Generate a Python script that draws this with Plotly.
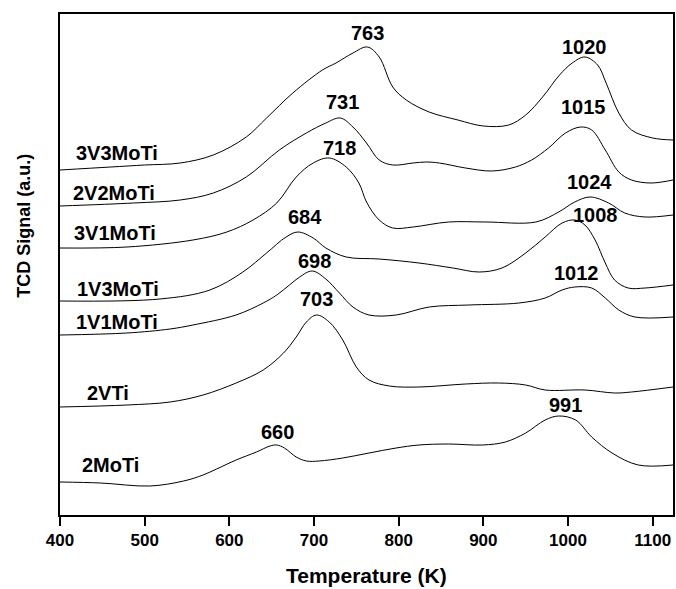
import plotly.graph_objects as go

# Temperature (K) / TCD signal (a.u., stacked offsets as drawn)
t_3v3 = [400, 460, 500, 542, 581, 620, 644, 675, 710, 726, 746, 763, 777, 793, 809, 836, 870, 900, 930, 950, 970, 990, 1005, 1020, 1035, 1045, 1060, 1075, 1100, 1124]
s_3v3 = [345, 348, 350, 352, 360, 378, 397, 422, 445, 452, 462, 468, 458, 428, 415, 403, 395, 389, 390, 400, 418, 440, 452, 458, 450, 432, 402, 385, 377, 375]

t_2v2 = [400, 487, 542, 581, 620, 659, 691, 714, 731, 746, 762, 777, 793, 817, 832, 848, 879, 910, 938, 957, 977, 997, 1015, 1028, 1044, 1060, 1075, 1098, 1124]
s_2v2 = [309, 312, 315, 322, 338, 365, 382, 392, 397, 388, 372, 355, 350, 352, 353, 352, 347, 344, 348, 355, 367, 382, 388, 385, 365, 343, 335, 332, 335]

t_3v1 = [400, 479, 557, 597, 628, 656, 679, 699, 718, 738, 753, 762, 777, 793, 817, 859, 903, 962, 989, 1008, 1026, 1048, 1067, 1091, 1124]
s_3v1 = [267, 268, 275, 283, 295, 312, 338, 352, 357, 348, 332, 313, 295, 287, 288, 293, 293, 293, 303, 313, 318, 312, 302, 298, 300]

t_1v3 = [400, 518, 577, 616, 644, 667, 681, 699, 714, 738, 777, 824, 864, 895, 922, 950, 973, 993, 1008, 1020, 1032, 1044, 1055, 1071, 1091, 1124]
s_1v3 = [214, 216, 225, 243, 262, 278, 283, 277, 267, 258, 256, 252, 247, 243, 247, 262, 278, 292, 295, 290, 275, 252, 235, 227, 227, 230]

t_1v1 = [400, 479, 530, 557, 608, 640, 656, 671, 683, 698, 714, 730, 746, 765, 797, 836, 883, 942, 973, 993, 1008, 1028, 1044, 1060, 1079, 1124]
s_1v1 = [180, 182, 186, 190, 200, 212, 220, 230, 238, 244, 236, 222, 208, 200, 200, 208, 210, 212, 217, 225, 228, 227, 217, 205, 198, 198]

t_2v = [400, 479, 530, 569, 608, 640, 664, 679, 691, 703, 718, 734, 750, 765, 789, 824, 879, 918, 950, 973, 1020, 1055, 1075, 1124]
s_2v = [108, 110, 113, 120, 132, 145, 162, 178, 193, 200, 193, 175, 148, 135, 129, 128, 131, 132, 130, 125, 125, 122, 123, 128]

t_2mo = [400, 448, 506, 546, 569, 585, 608, 632, 648, 656, 665, 679, 691, 706, 734, 765, 797, 824, 859, 899, 926, 950, 973, 989, 1009, 1028, 1052, 1083, 1124]
s_2mo = [33, 32, 29, 34, 40, 46, 55, 63, 69, 70, 67, 58, 54, 54, 57, 62, 67, 70, 71, 70, 73, 82, 95, 99, 95, 78, 62, 50, 50]

series_names = ["3V3MoTi", "2V2MoTi", "3V1MoTi", "1V3MoTi", "1V1MoTi", "2VTi", "2MoTi"]
series_t = [t_3v3, t_2v2, t_3v1, t_1v3, t_1v1, t_2v, t_2mo]
series_s = [s_3v3, s_2v2, s_3v1, s_1v3, s_1v1, s_2v, s_2mo]

# peak temperature labels
peak_labels = ["763", "1020", "731", "1015", "718", "1024", "684", "1008", "698", "1012", "703", "991", "660"]
x_ticks = [400, 500, 600, 700, 800, 900, 1000, 1100]

# label placement (layout)
peak_pos = [(763, 482), (1020, 468), (734, 413), (1018, 408), (730, 367), (1025, 333),
            (689, 298), (1032, 300), (701, 254), (1010, 242), (703, 216), (997, 110), (657, 83)]
name_pos = [(416, 362), (413.5, 322), (414.5, 282), (418, 226), (417, 193), (429, 122), (424, 50)]

FONT = "Liberation Sans, Arial, Helvetica, sans-serif"

fig = go.Figure()
for name, t, s in zip(series_names, series_t, series_s):
    fig.add_trace(go.Scatter(x=t, y=s, mode="lines", name=name,
                             line=dict(color="black", width=1, shape="spline", smoothing=1.0),
                             showlegend=False, hoverinfo="x+y+name"))

annotations = []
for txt, (px, py) in zip(peak_labels, peak_pos):
    annotations.append(dict(x=px, y=py, xref="x", yref="y", text=txt, showarrow=False,
                            xanchor="center", yanchor="middle",
                            font=dict(family=FONT, size=20, color="black", weight="bold")))
for txt, (px, py) in zip(series_names, name_pos):
    annotations.append(dict(x=px, y=py, xref="x", yref="y", text=txt, showarrow=False,
                            xanchor="left", yanchor="middle",
                            font=dict(family=FONT, size=20, color="black", weight="bold")))
annotations.append(dict(x=(23 - 59.5) / 615.5, y=(515 - 226) / 501, xref="paper", yref="paper",
                        text="TCD Signal (a.u.)", showarrow=False, textangle=-90,
                        xanchor="center", yanchor="middle",
                        font=dict(family=FONT, size=18, color="black", weight="bold")))
annotations.append(dict(x=0.5, y=(515 - 575) / 501, xref="paper", yref="paper",
                        text="Temperature (K)", showarrow=False,
                        xanchor="center", yanchor="middle",
                        font=dict(family=FONT, size=21, color="black", weight="bold")))

fig.update_layout(
    width=676, height=589,
    margin=dict(l=59.5, r=1, t=14, b=74, pad=0),
    paper_bgcolor="white", plot_bgcolor="white",
    annotations=annotations,
    xaxis=dict(range=[400, 1124], tickvals=x_ticks, ticktext=[str(v) for v in x_ticks],
               ticks="outside", ticklen=9, tickwidth=2, tickcolor="black",
               showline=True, linewidth=2, linecolor="black", mirror=True,
               showgrid=False, zeroline=False,
               tickfont=dict(family=FONT, size=17, color="black", weight="bold")),
    yaxis=dict(range=[0, 501], showticklabels=False, ticks="",
               showline=True, linewidth=2, linecolor="black", mirror=True,
               showgrid=False, zeroline=False),
)

fig.write_html("out.html")
